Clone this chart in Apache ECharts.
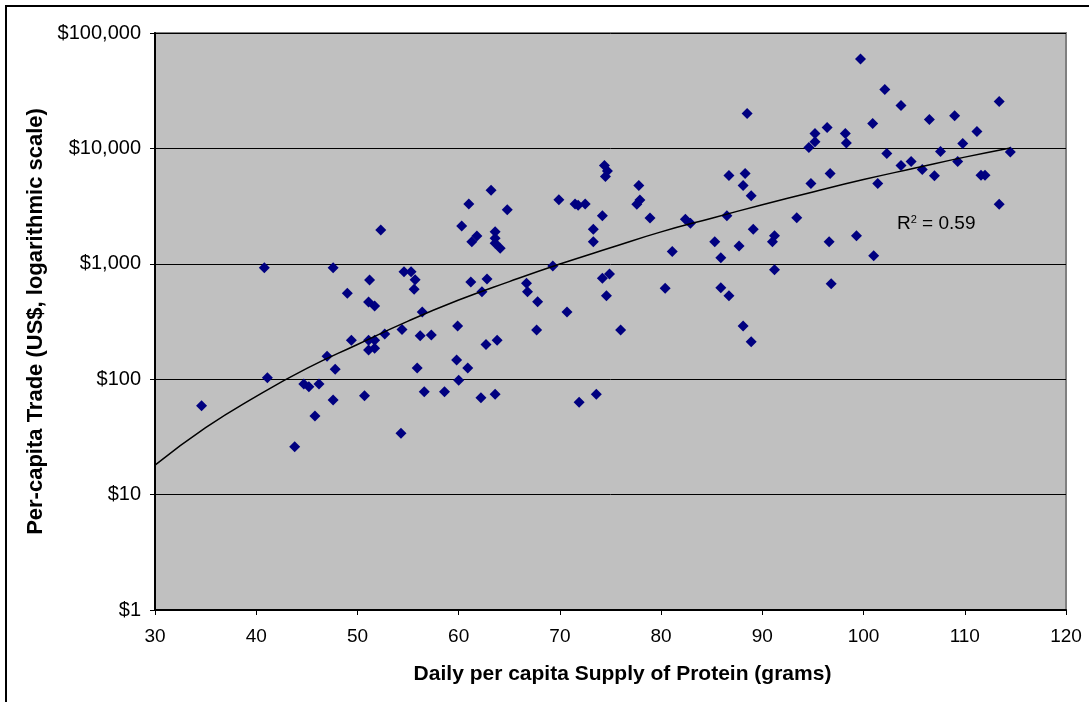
<!DOCTYPE html>
<html lang="en">
<head>
<meta charset="utf-8">
<title>Protein supply vs per-capita trade</title>
<script src="https://cdn.jsdelivr.net/npm/echarts@6/dist/echarts.min.js"></script>
<style>
  html, body { margin: 0; padding: 0; background: #fff; }
  #chart { width: 1089px; height: 702px; }
</style>
</head>
<body>
<div id="chart"></div>
<script>
// Daily per capita protein supply (grams), one entry per country
var proteinX = [
  34.6, 40.8, 41.1, 43.8, 44.7, 45.2, 45.8, 46.2, 47.0, 47.6,
  47.6, 47.8, 49.0, 49.4, 50.7, 51.1, 51.7, 51.1, 51.7, 51.1,
  51.7, 51.2, 52.3, 52.7, 54.3, 54.4, 54.6, 55.3, 55.7, 55.6,
  55.9, 56.2, 56.4, 56.6, 57.3, 58.6, 59.9, 59.8, 60.0, 60.3,
  61.0, 60.9, 61.3, 61.8, 61.2, 62.2, 62.3, 62.7, 62.8, 63.2,
  63.6, 63.6, 63.6, 64.1, 63.6, 63.8, 64.8, 66.7, 66.8, 67.7,
  67.8, 69.3, 69.9, 70.7, 71.5, 71.8, 72.5, 71.9, 73.3, 73.3,
  73.6, 74.2, 74.2, 74.9, 74.6, 74.4, 74.7, 74.5, 76.0, 77.6,
  77.9, 77.8, 78.9, 80.4, 81.1, 82.4, 82.9, 85.3, 85.9, 85.9,
  86.7, 86.5, 86.7, 87.7, 88.1, 88.3, 88.1, 88.5, 88.9, 88.9,
  89.1, 91.0, 91.2, 91.2, 93.4, 94.6, 94.8, 95.2, 95.2, 96.4,
  96.6, 96.7, 96.8, 98.2, 98.3, 99.3, 99.7, 100.9, 101.0, 101.4,
  102.1, 102.3, 103.7, 103.7, 104.7, 105.8, 106.5, 107.0, 107.6, 109.0,
  109.3, 109.8, 111.2, 111.6, 112.0, 113.4, 113.4, 114.5
];

// Per-capita trade (US$), same order as proteinX
var tradeY = [
  59, 925, 103, 26, 91, 86, 48, 91, 158, 925,
  66, 122, 555, 218, 72, 466, 430, 218, 218, 179,
  185, 723, 1965, 246, 34, 270, 854, 854, 728, 601,
  125, 238, 382, 78, 241, 78, 289, 147, 98, 2128,
  3303, 125, 1555, 1743, 695, 69, 573, 200, 738, 4343,
  1900, 1664, 1506, 1363, 74, 218, 2946, 677, 573, 267,
  469, 957, 3597, 382, 3303, 3218, 3303, 63, 1992, 1555,
  74, 2614, 748, 815, 529, 7100, 6383, 5700, 267, 3281,
  3578, 4760, 2497, 613, 1279, 2432, 2246, 1555, 1129, 621,
  529, 2614, 5810, 1427, 289, 6050, 4760, 20060, 211, 3896,
  1992, 1555, 1754, 889, 2512, 10170, 4955, 13450, 11400, 15170,
  1555, 6050, 672, 13450, 11110, 1754, 59460, 16430, 1175, 4955,
  32400, 9020, 7100, 23550, 7690, 6550, 17780, 5780, 9390, 19150,
  7690, 11020, 14000, 5860, 5860, 25500, 3281, 9330
];

// Power trendline
var trendX = [30, 35, 40, 45, 50, 55, 60, 65, 70, 75, 80, 85, 90, 95, 100, 105, 110, 114.5];
var trendY = [18, 38, 71, 124, 200, 319, 485, 701, 995, 1377, 1890, 2485, 3250, 4198, 5370, 6730, 8400, 10100];

var xTicks = { min: 30, max: 120, interval: 10 };
var yTicks = { min: 1, max: 100000 };
var r2Text = '0.59';

var points = proteinX.map(function (x, i) { return [x, tradeY[i]]; });
var trend = trendX.map(function (x, i) { return [x, trendY[i]]; });

var FONT = 'Arial, "Liberation Sans", sans-serif';

var chart = echarts.init(document.getElementById('chart'), null, { renderer: 'canvas' });
chart.setOption({
  animation: false,
  backgroundColor: '#ffffff',
  grid: {
    left: 155, right: 23, top: 33, bottom: 92,
    show: true,
    backgroundColor: '#c0c0c0',
    borderColor: '#808080',
    borderWidth: 2
  },
  xAxis: {
    type: 'value',
    min: xTicks.min, max: xTicks.max, interval: xTicks.interval,
    name: 'Daily per capita Supply of Protein (grams)',
    nameLocation: 'middle',
    nameGap: 54,
    // title sits a little right of the plot centre in the original
    nameTextStyle: { fontFamily: FONT, fontSize: 21, fontWeight: 'bold', color: '#000', padding: [0, 0, 0, 24] },
    axisLine: { onZero: false, lineStyle: { color: '#000', width: 2 } },
    axisTick: { show: true, length: 5, lineStyle: { color: '#000', width: 1 } },
    axisLabel: { margin: 17, fontFamily: FONT, fontSize: 19, color: '#000' },
    splitLine: { show: false }
  },
  yAxis: {
    type: 'log',
    logBase: 10,
    min: yTicks.min, max: yTicks.max,
    name: 'Per-capita Trade (US$, logarithmic scale)',
    nameLocation: 'middle',
    nameGap: 108,
    nameTextStyle: { fontFamily: FONT, fontSize: 22, fontWeight: 'bold', color: '#000' },
    axisLine: { show: true, lineStyle: { color: '#000', width: 2 } },
    axisTick: { show: true, length: 5, lineStyle: { color: '#000', width: 1 } },
    axisLabel: {
      margin: 14, fontFamily: FONT, fontSize: 20, color: '#000',
      formatter: function (v) { return '$' + Math.round(v).toLocaleString('en-US'); }
    },
    splitLine: { show: true, lineStyle: { color: '#000', width: 1 } },
    minorTick: { show: false }
  },
  series: [
    {
      name: 'Countries',
      type: 'scatter',
      symbol: 'diamond',
      symbolSize: 11,
      itemStyle: { color: '#000080', opacity: 1 },
      data: points,
      z: 3
    },
    {
      name: 'Power trend',
      type: 'line',
      data: trend,
      smooth: true,
      showSymbol: false,
      lineStyle: { color: '#000', width: 1.5 },
      z: 4
    }
  ],
  graphic: [
    // outer chart frame
    {
      type: 'rect',
      shape: { x: 6, y: 6, width: 1200, height: 1000 },
      style: { fill: null, stroke: '#000', lineWidth: 2 },
      silent: true
    },
    // R squared label
    {
      type: 'text',
      left: 897, top: 214,
      style: {
        text: '{r|R}{s|2}{r| = ' + r2Text + '}',
        rich: {
          r: { fontFamily: FONT, fontSize: 19, color: '#000', verticalAlign: 'bottom' },
          s: { fontFamily: FONT, fontSize: 11, color: '#000', verticalAlign: 'top' }
        }
      },
      z: 10
    }
  ]
});
</script>
</body>
</html>
